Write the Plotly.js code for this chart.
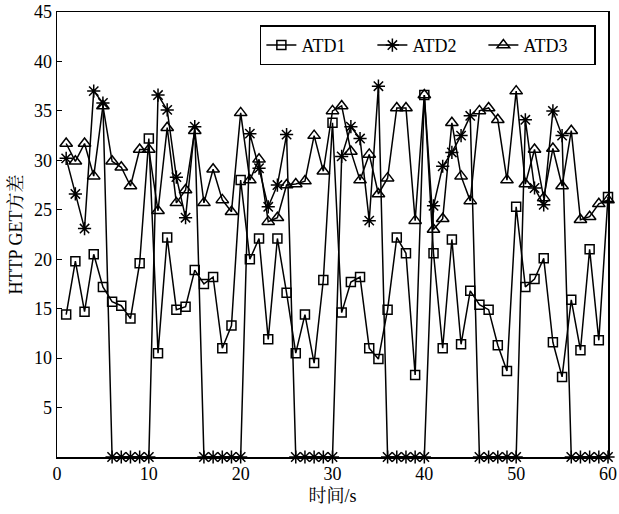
<!DOCTYPE html>
<html>
<head>
<meta charset="utf-8">
<script src="https://cdn.plot.ly/plotly-3.0.1.min.js"></script>
<style>html,body{margin:0;padding:0;background:#fff;}#chart{width:619px;height:514px;}</style>
</head>
<body>
<div id="chart"></div>
<script>
const xs = [1,2,3,4,5,6,7,8,9,10,11,12,13,14,15,16,17,18,19,20,21,22,23,24,25,26,27,28,29,30,31,32,33,34,35,36,37,38,39,40,41,42,43,44,45,46,47,48,49,50,51,52,53,54,55,56,57,58,59,60];
const atd1 = [14.4,19.8,14.7,20.5,17.2,15.7,15.3,14.0,19.6,32.2,10.5,22.2,14.9,15.2,18.9,17.5,18.2,11.0,13.3,28.0,20.0,22.1,11.9,22.1,16.6,10.5,14.4,9.5,17.9,33.8,14.6,17.7,18.2,11.0,9.9,14.9,22.2,20.6,8.3,36.6,20.6,11.0,22.0,11.4,16.8,15.4,14.9,11.3,8.7,25.3,17.2,18.0,20.1,11.6,8.1,15.9,10.8,21.0,11.8,26.3];
const atd2 = [30.2,26.6,23.1,37.0,35.8,0,0,0,0,0,36.6,35.1,28.3,24.2,33.4,0,0,0,0,0,32.7,29.2,25.3,27.5,32.6,0,0,0,0,0,30.4,33.4,32.2,23.9,37.5,0,0,0,0,0,25.4,29.4,30.8,32.5,34.5,0,0,0,0,0,34.1,27.2,25.5,35.0,32.5,0,0,0,0,0];
const atd3 = [31.7,29.9,31.7,28.4,35.5,29.9,29.3,27.4,31.1,31.1,24.9,33.3,25.7,27.0,33.0,25.7,29.1,26.0,24.8,34.8,28.0,30.1,23.8,24.2,27.5,27.6,27.9,32.5,28.9,35.0,35.5,30.9,28.0,30.6,26.6,28.2,35.3,35.3,23.9,36.6,23.0,24.1,33.8,28.4,25.9,35.0,35.3,34.1,28.0,37.0,27.6,31.1,26.2,31.2,27.4,33.0,24.0,24.3,25.6,26.0];
const seriesNames = ['ATD1','ATD2','ATD3'];
const xTicks = [0,10,20,30,40,50,60];
const yTicks = [5,10,15,20,25,30,35,40,45];

const serif = 'Liberation Serif, Noto Serif CJK SC, Noto Sans CJK SC, serif';
const lineStyle = {color:'#000', width:1.5};
function tr(y, name, symbol, size){
  return {x: xs, y: y, name: name, type:'scatter', mode:'lines+markers', cliponaxis:false,
    line: lineStyle,
    marker:{symbol: symbol, size: size, color:'#000', line:{color:'#000', width:1.5}}};
}
const data = [
  tr(atd1, seriesNames[0], 'square-open', 9),
  tr(atd2, seriesNames[1], 'asterisk-open', 11),
  tr(atd3, seriesNames[2], 'triangle-up-open', 11)
];
const axisCommon = {showline:true, linecolor:'#000', linewidth:1.5, mirror:true, ticks:'inside', ticklen:5, tickcolor:'#000', tickwidth:1.2, showgrid:false, zeroline:false, tickfont:{family:serif, size:18, color:'#000'}};
const layout = {
  width:619, height:514,
  margin:{l:57, r:11, t:12, b:57},
  paper_bgcolor:'#fff', plot_bgcolor:'#fff',
  showlegend:true,
  legend:{orientation:'h', x:0.978, xanchor:'right', y:0.97, yanchor:'top', bordercolor:'#000', borderwidth:1.5, bgcolor:'#fff', font:{family:serif, size:18, color:'#000'}, entrywidth:66, entrywidthmode:'pixels'},
  xaxis: Object.assign({}, axisCommon, {range:[0,60], tickvals:xTicks, ticktext:xTicks.map(String), title:{text:'时间/s', font:{family:serif, size:18, color:'#000'}, standoff:6}}),
  yaxis: Object.assign({}, axisCommon, {range:[0,45], tickvals:yTicks, ticktext:yTicks.map(String), title:{text:'HTTP GET方差', font:{family:serif, size:18, color:'#000'}, standoff:6}})
};
Plotly.newPlot('chart', data, layout, {displayModeBar:false, staticPlot:true});
</script>
</body>
</html>
